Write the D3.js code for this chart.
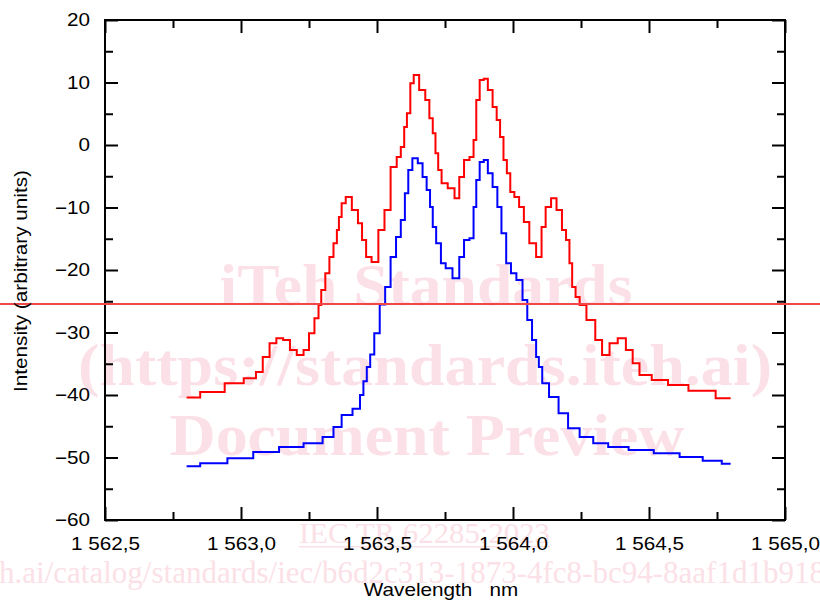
<!DOCTYPE html>
<html>
<head>
<meta charset="utf-8">
<script src="https://cdn.jsdelivr.net/npm/d3@7"></script>
<style>
    body { margin: 0; background: #fff; }
    svg { display: block; font-family: "Liberation Sans", Arial, sans-serif; }
</style>
</head>
<body>
<svg id="chart" width="820" height="603"></svg>
<script>
// values
const wavelengthRed = [1562.80, 1562.90, 1562.98, 1563.04, 1563.07, 1563.09, 1563.12, 1563.14, 1563.17, 1563.19,
    1563.22, 1563.24, 1563.26, 1563.28, 1563.29, 1563.30, 1563.32, 1563.33, 1563.35, 1563.355,
    1563.365, 1563.375, 1563.395, 1563.42, 1563.44, 1563.45, 1563.47, 1563.49, 1563.52, 1563.535,
    1563.565, 1563.58, 1563.595, 1563.605, 1563.615, 1563.63, 1563.64, 1563.67, 1563.685, 1563.70,
    1563.71, 1563.72, 1563.73, 1563.745, 1563.775, 1563.795, 1563.81, 1563.83, 1563.85, 1563.86,
    1563.87, 1563.885, 1563.90, 1563.915, 1563.935, 1563.945, 1563.96, 1563.97, 1563.985, 1563.995,
    1564.015, 1564.03, 1564.05, 1564.07, 1564.10, 1564.11, 1564.13, 1564.15, 1564.17, 1564.19,
    1564.20, 1564.215, 1564.22, 1564.24, 1564.25, 1564.29, 1564.315, 1564.34, 1564.37, 1564.40,
    1564.43, 1564.45, 1564.48, 1564.54, 1564.60, 1564.69, 1564.80];
const intensityRed = [-40.4, -39.5, -38.1, -37.3, -36.3, -33.9, -31.7, -30.9, -31.2, -32.8,
    -33.6, -32.8, -30.1, -27.7, -25.6, -23.2, -20.5, -17.9, -15.7, -13.6,
    -11.5, -9.3, -8.3, -10.4, -12.5, -15.2, -17.9, -18.7, -13.6, -10.4,
    -3.5, -1.9, -0.3, 2.9, 5.1, 9.9, 11.2, 8.8, 7.2, 4.3,
    1.9, -1.3, -4.0, -6.1, -6.9, -8.5, -5.1, -2.4, -1.9, 0.8,
    7.2, 10.4, 10.6, 8.8, 6.1, 4.0, 1.3, -2.4, -4.5, -7.5,
    -8.3, -9.9, -12.3, -15.7, -17.9, -13.1, -9.9, -8.5, -10.4, -13.6,
    -15.2, -18.9, -22.7, -24.3, -25.6, -28.0, -31.2, -33.6, -31.7, -30.9,
    -32.8, -34.9, -36.8, -37.6, -38.4, -39.3, -40.5];

const wavelengthBlue = [1562.80, 1562.90, 1563.00, 1563.09, 1563.19, 1563.27, 1563.33, 1563.35, 1563.39, 1563.43,
    1563.445, 1563.455, 1563.47, 1563.48, 1563.50, 1563.52, 1563.54, 1563.56, 1563.58, 1563.595,
    1563.61, 1563.62, 1563.64, 1563.66, 1563.675, 1563.69, 1563.70, 1563.71, 1563.725, 1563.745,
    1563.76, 1563.795, 1563.81, 1563.83, 1563.85, 1563.86, 1563.87, 1563.885, 1563.90, 1563.915,
    1563.935, 1563.95, 1563.965, 1563.985, 1564.00, 1564.025, 1564.045, 1564.06, 1564.08, 1564.09,
    1564.10, 1564.115, 1564.15, 1564.185, 1564.22, 1564.27, 1564.32, 1564.38, 1564.47, 1564.565,
    1564.66, 1564.735, 1564.80];
const intensityBlue = [-51.4, -50.9, -50.1, -49.1, -48.3, -47.7, -46.7, -45.1, -43.2, -42.2,
    -40.0, -37.8, -35.5, -33.5, -30.1, -25.5, -22.7, -17.9, -14.7, -12.0,
    -7.7, -4.0, -2.1, -2.9, -5.1, -7.2, -9.9, -13.1, -15.7, -18.9,
    -19.7, -21.3, -17.9, -15.2, -14.9, -9.9, -5.6, -2.7, -2.4, -4.5,
    -6.7, -9.9, -14.1, -18.9, -20.5, -21.6, -24.8, -28.0, -31.2, -33.9,
    -35.5, -38.1, -40.3, -42.9, -45.3, -46.7, -47.7, -48.3, -48.8, -49.3,
    -49.9, -50.5, -51.0];

const xTicks = [1562.5, 1563.0, 1563.5, 1564.0, 1564.5, 1565.0];
const xMinorTicks = [1562.75, 1563.25, 1563.75, 1564.25, 1564.75];
const yTicks = [-60, -50, -40, -30, -20, -10, 0, 10, 20];
const yMinorTicks = [-55, -45, -35, -25, -15, -5, 5, 15];

const watermarkLines = ['iTeh Standards', '(https://standards.iteh.ai)', 'Document Preview'];

const svg = d3.select('#chart');
const margin = { top: 20, right: 35, bottom: 83, left: 105 };
const width = +svg.attr('width') - margin.left - margin.right;
const height = +svg.attr('height') - margin.top - margin.bottom;

const wm = '#fbe1e7';
const stretch = 'scale(1.15,1)';

// watermark of the source document, behind the chart
const marks = svg.append('g').attr('font-family', '"Liberation Serif", "Times New Roman", serif').attr('fill', wm);
const markPos = [[426, 305, 413], [425, 385, 694], [427, 455, 515]];
marks.selectAll('text.big')
    .data(watermarkLines)
    .enter()
    .append('text')
    .attr('class', 'big')
    .attr('x', (d, i) => markPos[i][0] - markPos[i][2] / 2)
    .attr('y', (d, i) => markPos[i][1])
    .attr('font-size', 60)
    .attr('font-weight', 'bold')
    .attr('textLength', (d, i) => markPos[i][2])
    .attr('lengthAdjust', 'spacingAndGlyphs')
    .text(d => d);
marks.append('text')
    .attr('x', 299).attr('y', 543)
    .attr('font-size', 29)
    .attr('textLength', 251)
    .attr('lengthAdjust', 'spacingAndGlyphs')
    .text('IEC TR 62285:2023');
marks.append('rect')
    .attr('x', 299).attr('y', 546).attr('width', 251).attr('height', 1.5);
marks.append('text')
    .attr('x', -1).attr('y', 583)
    .attr('font-size', 31)
    .attr('textLength', 826)
    .attr('lengthAdjust', 'spacingAndGlyphs')
    .text('h.ai/catalog/standards/iec/b6d2c313-1873-4fc8-bc94-8aaf1d1b918');

const chart = svg.append('g')
    .attr('transform', `translate(${margin.left}, ${margin.top})`);

const xScale = d3.scaleLinear().domain([1562.5, 1565.0]).range([0, width]);
const yScale = d3.scaleLinear().domain([-60, 20]).range([height, 0]);

const locale = d3.formatLocale({ decimal: ',', thousands: ' ', grouping: [3], currency: ['', ''] });
const fmtX = locale.format(',.1f');
const fmtY = locale.format('d');

// axes, ticks pointing inward on all four sides
chart.append('g')
    .attr('class', 'axis')
    .attr('transform', `translate(0, ${height})`)
    .call(d3.axisBottom(xScale).tickValues(xTicks).tickSize(-13).tickPadding(17).tickFormat(fmtX));
chart.append('g')
    .attr('class', 'axis')
    .attr('transform', `translate(0, ${height})`)
    .call(d3.axisBottom(xScale).tickValues(xMinorTicks).tickSize(-8).tickFormat(''));
chart.append('g')
    .attr('class', 'axis')
    .call(d3.axisTop(xScale).tickValues(xTicks).tickSize(-13).tickFormat(''));
chart.append('g')
    .attr('class', 'axis')
    .call(d3.axisTop(xScale).tickValues(xMinorTicks).tickSize(-8).tickFormat(''));

chart.append('g')
    .attr('class', 'axis')
    .call(d3.axisLeft(yScale).tickValues(yTicks).tickSize(-13).tickPadding(13).tickFormat(fmtY));
chart.append('g')
    .attr('class', 'axis')
    .call(d3.axisLeft(yScale).tickValues(yMinorTicks).tickSize(-8).tickFormat(''));
chart.append('g')
    .attr('class', 'axis')
    .attr('transform', `translate(${width}, 0)`)
    .call(d3.axisRight(yScale).tickValues(yTicks).tickSize(-13).tickFormat(''));
chart.append('g')
    .attr('class', 'axis')
    .attr('transform', `translate(${width}, 0)`)
    .call(d3.axisRight(yScale).tickValues(yMinorTicks).tickSize(-8).tickFormat(''));

chart.selectAll('.axis .domain').remove();
chart.selectAll('.axis .tick line').attr('stroke', '#000').attr('stroke-width', 2);
chart.selectAll('.axis .tick text')
    .attr('font-family', '"Liberation Sans", Arial, sans-serif')
    .attr('font-size', 18)
    .attr('fill', '#000')
    .attr('transform', stretch);

chart.append('rect')
    .attr('width', width)
    .attr('height', height)
    .attr('fill', 'none')
    .attr('stroke', '#000')
    .attr('stroke-width', 2);

// spectra, drawn as the instrument's stepped trace
const line = d3.line()
    .x(d => xScale(d[0]))
    .y(d => yScale(d[1]))
    .curve(d3.curveStep);

chart.append('path')
    .datum(d3.zip(wavelengthRed, intensityRed))
    .attr('fill', 'none')
    .attr('stroke', '#ff0000')
    .attr('stroke-width', 2)
    .attr('d', line);

chart.append('path')
    .datum(d3.zip(wavelengthBlue, intensityBlue))
    .attr('fill', 'none')
    .attr('stroke', '#0000ff')
    .attr('stroke-width', 2)
    .attr('d', line);

// red rule across the page (part of the scanned preview)
svg.append('line')
    .attr('x1', 0).attr('x2', 820)
    .attr('y1', 304).attr('y2', 304)
    .attr('stroke', '#f04848')
    .attr('stroke-width', 2);

svg.append('text')
    .attr('transform', `translate(27, 281) rotate(-90) ${stretch}`)
    .attr('text-anchor', 'middle')
    .attr('font-size', 18)
    .text('Intensity (arbitrary units)');

svg.append('text')
    .attr('transform', `translate(441, 596) ${stretch}`)
    .attr('text-anchor', 'middle')
    .attr('font-size', 18)
    .style('white-space', 'pre')
    .text('Wavelength   nm');
</script>
</body>
</html>
